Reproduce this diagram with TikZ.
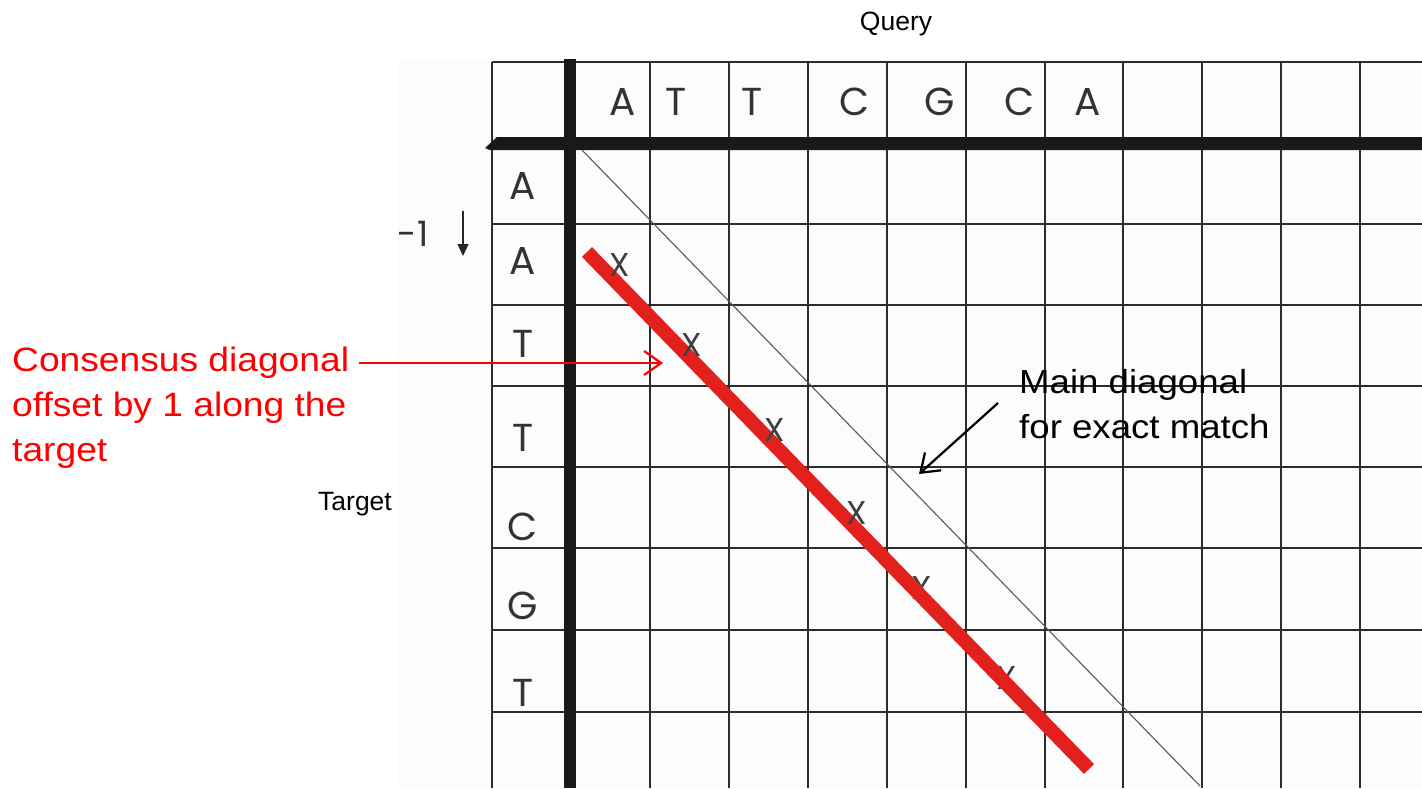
\documentclass[tikz,border=0pt]{standalone}
\usepackage{fontspec}
\setmainfont{Liberation Sans}
\newfontfamily\geo{Poppins}
\newfontfamily\widesans[FakeStretch=1.1]{Liberation Sans}
\usetikzlibrary{arrows.meta}
\definecolor{gridgray}{RGB}{45,45,45}
\definecolor{axisblack}{RGB}{25,25,25}
\definecolor{diagred}{RGB}{226,32,28}
\begin{document}
\begin{tikzpicture}[x=1pt,y=-1pt,
  gridline/.style={draw=gridgray,line width=1.6pt},
  axisline/.style={draw=axisblack,line width=12pt},
  letter/.style={font=\geo\fontsize{39}{39}\selectfont,inner sep=0pt,text=black!80},
  xmark/.style={font=\geo\fontsize{33}{33}\selectfont,inner sep=0pt,text=black!75},
  axislabel/.style={font=\fontsize{26.5}{26.5}\selectfont,inner sep=0pt},
  redline/.style={font=\widesans\fontsize{33.8}{33.8}\selectfont,text=red,inner sep=0pt,anchor=base west},
  blackline/.style={font=\widesans\fontsize{33.3}{33.3}\selectfont,text=black,inner sep=0pt,anchor=base west},
  pointer/.style={line width=2.2pt,-{Straight Barb[length=17pt,width=24pt,line width=2.2pt]}}
]
\useasboundingbox (0,0) rectangle (1422,788);
\fill[black!1] (398,58) rectangle (1422,788);
% grid
\foreach \x in {492,650,729,808,887,966,1045,1123,1202,1281,1360}
  \draw[gridline] (\x,62) -- (\x,788);
\foreach \y in {62,224,305,386,467,548,630,712}
  \draw[gridline] (492,\y) -- (1422,\y);
\draw[gridline,line width=2.4pt] (808,62) -- (808,143);
\draw[gridline,line width=2.4pt] (1123,62) -- (1123,305) -- (1422,305);
\draw[gridline,line width=2.4pt] (808,788) -- (808,548) -- (1422,548);
% axes
\draw[axisline] (570,59) -- (570,788);
\fill[axisblack] (485,148) -- (497,137) -- (1422,137) -- (1422,150) -- (490,150) -- cycle;
% labels
\node[axislabel] (query) at (896,24) {Query};
\node[axislabel] (target) at (355,504) {Target};
% query letters
\node[letter] (q1) at (623,102) {A};
\node[letter] (q2) at (676,102) {T};
\node[letter] (q3) at (752,102) {T};
\node[letter] (q4) at (855,102) {C};
\node[letter] (q5) at (940,102) {G};
\node[letter] (q6) at (1020,102) {C};
\node[letter] (q7) at (1088,102) {A};
% target letters
\node[letter] (t1) at (523,186) {A};
\node[letter] (t2) at (523,261) {A};
\node[letter] (t3) at (523,344) {T};
\node[letter] (t4) at (523,438) {T};
\node[letter] (t5) at (523,527) {C};
\node[letter] (t6) at (523,606) {G};
\node[letter] (t7) at (523,693) {T};
% offset marker
\node[font=\geo\fontsize{35}{35}\selectfont,inner sep=0pt,text=black!80] (offset) at (413,234) {-1};
\coordinate (downtop) at (463,211);
\coordinate (downbot) at (463,256);
\draw[line width=1.1pt,black!85,-{Triangle[length=12pt,width=11pt]}] (downtop) -- (downbot);
% main diagonal
\coordinate (mainstart) at (582,150);
\coordinate (mainend) at (1200,786);
\draw[black!65,line width=1.1pt] (mainstart) -- (mainend);
% X marks under the red line
\node[xmark] (x5) at (922,588) {X};
\node[xmark] (x6) at (1007,678) {X};
% consensus diagonal
\coordinate (redstart) at (587,252);
\coordinate (redend) at (1089,769);
\draw[diagred,line width=14pt] (redstart) -- (redend);
% X marks over the red line
\node[xmark] (x1) at (620,265) {X};
\node[xmark] (x2) at (692,345) {X};
\node[xmark] (x3) at (775,430) {X};
\node[xmark] (x4) at (857,513) {X};
% red annotation
\node[redline] (red1) at (12,371) {Consensus diagonal};
\node[redline] (red2) at (12,416) {offset by 1 along the};
\node[redline] (red3) at (12,461) {target};
\coordinate (redtail) at (359,363);
\coordinate (redhead) at (663,363);
\draw[pointer,red] (redtail) -- (redhead);
% black annotation
\node[blackline] (main1) at (1019,393) {Main diagonal};
\node[blackline] (main2) at (1019,438) {for exact match};
\coordinate (blacktail) at (998,403);
\coordinate (blackhead) at (919,474);
\draw[pointer,black] (blacktail) -- (blackhead);
\end{tikzpicture}
\end{document}
